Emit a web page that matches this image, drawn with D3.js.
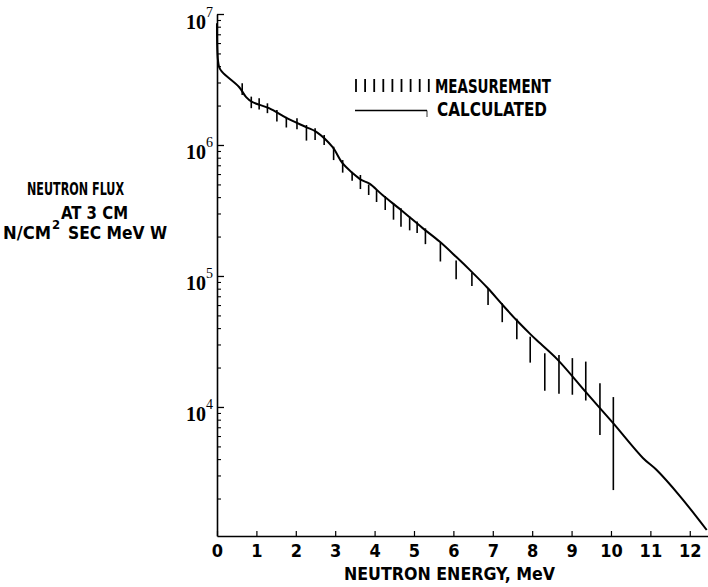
<!DOCTYPE html>
<html>
<head>
<meta charset="utf-8">
<script src="https://cdn.jsdelivr.net/npm/d3@7"></script>
<style>
  html, body { margin: 0; padding: 0; background: #fff; }
  svg { display: block; }
</style>
</head>
<body>
<svg id="chart" width="708" height="587"></svg>
<script>
// ---------------- data ----------------
const xTickValues = [0, 1, 2, 3, 4, 5, 6, 7, 8, 9, 10, 11, 12];
const yMajorExponents = [4, 5, 6, 7];
const yLabelBase = "10";

// calculated spectrum (energy MeV, flux)
const calcEnergy = [0.0, 0.05, 0.13, 0.56, 0.74, 0.89, 1.32, 1.76, 2.26, 2.52, 2.93, 3.18, 3.44, 3.66, 3.87, 4.20, 4.67, 5.22, 5.65, 6.07, 6.46, 6.87, 7.25, 7.60, 7.94, 8.11, 8.65, 9.38, 10.05, 10.81, 11.16, 11.76, 12.43];
const calcFlux   = [8.5e6, 3.98e6, 3.61e6, 2.77e6, 2.32e6, 2.13e6, 1.91e6, 1.61e6, 1.37e6, 1.26e6, 9.66e5, 7.29e5, 6.11e5, 5.41e5, 5.07e5, 4.15e5, 3.19e5, 2.32e5, 1.83e5, 1.40e5, 1.08e5, 8.09e4, 6.01e4, 4.61e4, 3.63e4, 3.24e4, 2.29e4, 1.28e4, 7.55e3, 4.08e3, 3.30e3, 2.07e3, 1.15e3];

// measurement error bars (energy MeV, upper flux, lower flux)
const measEnergy = [0.64, 0.87, 1.07, 1.28, 1.52, 1.76, 2.03, 2.27, 2.49, 2.72, 2.96, 3.19, 3.43, 3.64, 3.85, 4.05, 4.27, 4.48, 4.67, 4.89, 5.08, 5.29, 5.67, 6.07, 6.47, 6.88, 7.24, 7.61, 7.95, 8.32, 8.68, 9.02, 9.36, 9.72, 10.06];
const measHigh   = [2.96e6, 2.34e6, 2.27e6, 2.08e6, 1.85e6, 1.64e6, 1.60e6, 1.42e6, 1.34e6, 1.19e6, 9.70e5, 7.67e5, 6.25e5, 5.90e5, 4.99e5, 4.53e5, 4.08e5, 3.59e5, 3.29e5, 2.84e5, 2.60e5, 2.31e5, 1.80e5, 1.31e5, 1.06e5, 8.05e4, 6.19e4, 4.71e4, 3.44e4, 2.57e4, 2.49e4, 2.36e4, 2.22e4, 1.52e4, 1.19e4];
const measLow    = [2.41e6, 1.91e6, 1.87e6, 1.75e6, 1.51e6, 1.36e6, 1.32e6, 1.08e6, 1.09e6, 1.00e6, 7.67e5, 6.15e5, 5.33e5, 4.61e5, 4.15e5, 3.67e5, 3.19e5, 2.69e5, 2.38e5, 2.23e5, 2.13e5, 1.75e5, 1.29e5, 9.46e4, 8.39e4, 6.01e4, 4.44e4, 3.29e4, 2.18e4, 1.33e4, 1.26e4, 1.24e4, 1.12e4, 6.11e3, 2.32e3];

const xDomain = [0, 12.45];
const yDomain = [1.035e3, 1e7];

const legendLabels = ["MEASUREMENT", "CALCULATED"];
const xTitle = "NEUTRON ENERGY, MeV";
const yTitleLines = ["NEUTRON FLUX", "AT 3 CM"];
const yUnitParts = ["N/CM", "2", "SEC MeV W"];

// ---------------- drawing ----------------
const FONT = "'Liberation Sans Narrow', 'DejaVu Sans Condensed', 'Arial Narrow', sans-serif";
const SERIF = "'Liberation Serif', 'DejaVu Serif', serif";
const svg = d3.select("#chart");

const x = d3.scaleLinear().domain(xDomain).range([217, 707.5]);
const y = d3.scaleLog().domain(yDomain).range([536, 14]);

// x axis
const xAxis = d3.axisBottom(x)
  .tickValues(xTickValues)
  .tickSizeInner(-5)
  .tickSizeOuter(0)
  .tickPadding(8)
  .tickFormat(d3.format("d"));
const gx = svg.append("g").attr("transform", `translate(0,${y(yDomain[0])})`).call(xAxis);
gx.select(".domain").attr("stroke", "#000").attr("stroke-width", 1.4);
gx.selectAll(".tick line").attr("stroke", "#000").attr("stroke-width", 1.2);
gx.selectAll(".tick text")
  .attr("font-family", FONT).attr("font-weight", "bold").attr("font-size", 18)
  .attr("fill", "#000");

// y axis minor ticks
const minorVals = [];
[3, 4, 5, 6].forEach(e => { for (let m = 2; m <= 9; m++) { const v = m * Math.pow(10, e); if (v >= yDomain[0]) minorVals.push(v); } });
const gyMinor = svg.append("g").attr("transform", `translate(${x(0)},0)`)
  .call(d3.axisLeft(y).tickValues(minorVals).tickSizeInner(-4).tickSizeOuter(0).tickFormat(() => ""));
gyMinor.select(".domain").remove();
gyMinor.selectAll(".tick line").attr("stroke", "#000").attr("stroke-width", 1.1);

// y axis major ticks
const majorVals = yMajorExponents.map(e => Math.pow(10, e));
const gy = svg.append("g").attr("transform", `translate(${x(0)},0)`)
  .call(d3.axisLeft(y).tickValues(majorVals).tickSizeInner(-7).tickSizeOuter(0).tickFormat(() => ""));
gy.select(".domain").attr("stroke", "#000").attr("stroke-width", 1.6);
gy.selectAll(".tick line").attr("stroke", "#000").attr("stroke-width", 1.3);
gy.selectAll(".tick text").each(function(d, i) {
  const t = d3.select(this)
    .attr("x", -4).attr("dy", null).attr("y", 14)
    .attr("text-anchor", "end")
    .attr("font-family", SERIF).attr("font-weight", "bold").attr("font-size", 20).attr("fill", "#000");
  t.text(null);
  t.append("tspan").text(yLabelBase);
  t.append("tspan").attr("font-size", 14).attr("font-weight", "normal").attr("dy", -12).text(String(yMajorExponents[i]));
});

// calculated curve
const calcData = calcEnergy.map((e, i) => ({ e, f: calcFlux[i] }));
const line = d3.line().x(d => x(d.e)).y(d => y(d.f)).curve(d3.curveCatmullRom.alpha(0.5));
svg.append("path").datum(calcData)
  .attr("d", line).attr("fill", "none").attr("stroke", "#000").attr("stroke-width", 2);

// measurement bars
const measData = measEnergy.map((e, i) => ({ e, hi: measHigh[i], lo: measLow[i] }));
svg.append("g").selectAll("line").data(measData).join("line")
  .attr("x1", d => x(d.e)).attr("x2", d => x(d.e))
  .attr("y1", d => y(d.hi)).attr("y2", d => y(d.lo))
  .attr("stroke", "#000").attr("stroke-width", 1.6);

// legend
const lg = svg.append("g");
d3.range(9).forEach(i => {
  lg.append("line").attr("x1", 356 + i * 9.1).attr("x2", 356 + i * 9.1)
    .attr("y1", 79).attr("y2", 92).attr("stroke", "#000").attr("stroke-width", 1.8);
});
lg.append("text").attr("x", 435).attr("y", 92.5).text(legendLabels[0])
  .attr("font-family", FONT).attr("font-weight", "bold").attr("font-size", 19)
  .attr("textLength", 116).attr("lengthAdjust", "spacingAndGlyphs");
lg.append("line").attr("x1", 355).attr("x2", 427).attr("y1", 110.5).attr("y2", 110.5)
  .attr("stroke", "#000").attr("stroke-width", 1.6);
lg.append("line").attr("x1", 427).attr("x2", 427).attr("y1", 110.5).attr("y2", 117)
  .attr("stroke", "#000").attr("stroke-width", 0.8);
lg.append("text").attr("x", 437).attr("y", 116).text(legendLabels[1])
  .attr("font-family", FONT).attr("font-weight", "bold").attr("font-size", 19)
  .attr("textLength", 110).attr("lengthAdjust", "spacingAndGlyphs");

// x title
svg.append("text").attr("x", 344).attr("y", 580).text(xTitle)
  .attr("font-family", FONT).attr("font-weight", "bold").attr("font-size", 18)
  .attr("textLength", 211).attr("lengthAdjust", "spacingAndGlyphs");

// y title
svg.append("text").attr("x", 27).attr("y", 195).text(yTitleLines[0])
  .attr("font-family", FONT).attr("font-weight", "bold").attr("font-size", 18)
  .attr("textLength", 97).attr("lengthAdjust", "spacingAndGlyphs");
svg.append("text").attr("x", 61).attr("y", 219).text(yTitleLines[1])
  .attr("font-family", FONT).attr("font-weight", "bold").attr("font-size", 18)
  .attr("textLength", 67).attr("lengthAdjust", "spacingAndGlyphs");
svg.append("text").attr("x", 3).attr("y", 238.5).text(yUnitParts[0])
  .attr("font-family", FONT).attr("font-weight", "bold").attr("font-size", 18)
  .attr("textLength", 48).attr("lengthAdjust", "spacingAndGlyphs");
svg.append("text").attr("x", 52).attr("y", 229).text(yUnitParts[1])
  .attr("font-family", FONT).attr("font-weight", "bold").attr("font-size", 13);
svg.append("text").attr("x", 68).attr("y", 238.5).text(yUnitParts[2])
  .attr("font-family", FONT).attr("font-weight", "bold").attr("font-size", 18)
  .attr("textLength", 99).attr("lengthAdjust", "spacingAndGlyphs");
</script>
</body>
</html>
